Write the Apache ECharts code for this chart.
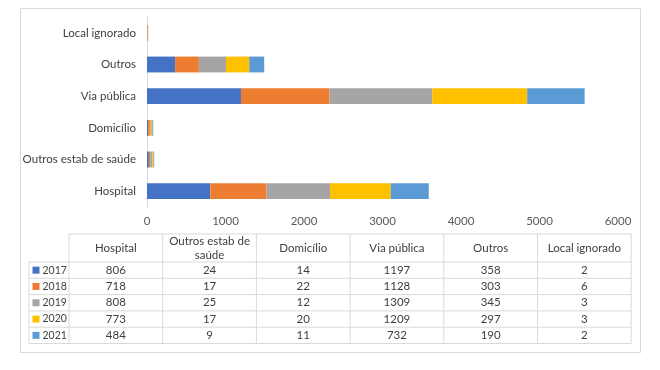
<!DOCTYPE html>
<html>
<head>
<meta charset="utf-8">
<script src="https://cdn.jsdelivr.net/npm/echarts@6/dist/echarts.min.js"></script>
<style>html,body{margin:0;padding:0;background:#fff;}#c{width:660px;height:370px;}</style>
</head>
<body>
<div id="c"></div>
<script>
const categories = ['Hospital', 'Outros estab de saúde', 'Domicílio', 'Via pública', 'Outros', 'Local ignorado'];
const tableHeaders = ['Hospital', 'Outros estab de\nsaúde', 'Domicílio', 'Via pública', 'Outros', 'Local ignorado'];
const years = ['2017', '2018', '2019', '2020', '2021'];
const v2017 = [806, 24, 14, 1197, 358, 2];
const v2018 = [718, 17, 22, 1128, 303, 6];
const v2019 = [808, 25, 12, 1309, 345, 3];
const v2020 = [773, 17, 20, 1209, 297, 3];
const v2021 = [484, 9, 11, 732, 190, 2];
const xTicks = [0, 1000, 2000, 3000, 4000, 5000, 6000];

const seriesValues = [v2017, v2018, v2019, v2020, v2021];
const colors = ['#4472C4', '#ED7D31', '#A5A5A5', '#FFC000', '#5B9BD5'];
const FONT = 'Lato';
const FS = 11.5;
const textColor = '#404040';
const lineColor = '#D9D9D9';

const chart = echarts.init(document.getElementById('c'), null, {renderer: 'canvas'});

const tblLeft = 69, colW = 93.7, legLeft = 29;
const headTop = 234, headBottom = 262, rowH = 16.3;
const graphics = [];
graphics.push({type: 'rect', shape: {x: 20.5, y: 8.5, width: 620, height: 344}, style: {fill: 'none', stroke: lineColor, lineWidth: 1}, silent: true});
const tblRight = tblLeft + colW * tableHeaders.length;
const tblBottom = headBottom + rowH * years.length;
graphics.push({type: 'line', shape: {x1: tblLeft, y1: headTop, x2: tblRight, y2: headTop}, style: {stroke: lineColor, lineWidth: 1}});
for (let r = 0; r <= years.length; r++) {
  const y = headBottom + rowH * r;
  graphics.push({type: 'line', shape: {x1: legLeft, y1: y, x2: tblRight, y2: y}, style: {stroke: lineColor, lineWidth: 1}});
}
graphics.push({type: 'line', shape: {x1: legLeft, y1: headBottom, x2: legLeft, y2: tblBottom}, style: {stroke: lineColor, lineWidth: 1}});
for (let c = 0; c <= tableHeaders.length; c++) {
  const x = tblLeft + colW * c;
  graphics.push({type: 'line', shape: {x1: x, y1: headTop, x2: x, y2: tblBottom}, style: {stroke: lineColor, lineWidth: 1}});
}
const font = FS + 'px "' + FONT + '"';
const yearFont = '10.5px "' + FONT + '"';
tableHeaders.forEach((h, c) => {
  graphics.push({type: 'text', x: tblLeft + colW * (c + 0.5), y: (headTop + headBottom) / 2,
    style: {text: h, font: font, fill: textColor, align: 'center', verticalAlign: 'middle', lineHeight: 14}});
});
years.forEach((yr, r) => {
  const cy = headBottom + rowH * (r + 0.5);
  graphics.push({type: 'rect', shape: {x: 32.5, y: cy - 3.5, width: 7, height: 7}, style: {fill: colors[r]}});
  graphics.push({type: 'text', x: 42.5, y: cy, style: {text: yr, font: yearFont, fill: textColor, align: 'left', verticalAlign: 'middle'}});
  seriesValues[r].forEach((v, c) => {
    graphics.push({type: 'text', x: tblLeft + colW * (c + 0.5), y: cy,
      style: {text: String(v), font: font, fill: textColor, align: 'center', verticalAlign: 'middle'}});
  });
});

chart.setOption({
  animation: false,
  textStyle: {fontFamily: FONT},
  grid: {left: 147, right: 42, top: 17, bottom: 163, containLabel: false},
  xAxis: {
    type: 'value', min: xTicks[0], max: xTicks[xTicks.length - 1], interval: 1000,
    axisLine: {show: false}, axisTick: {show: false}, splitLine: {show: false},
    axisLabel: {color: '#595959', fontSize: FS, fontFamily: FONT, margin: 8, formatter: v => String(v)}
  },
  yAxis: {
    type: 'category', data: categories,
    axisLine: {show: true, lineStyle: {color: lineColor}}, axisTick: {show: false},
    axisLabel: {color: textColor, fontSize: FS, fontFamily: FONT, margin: 11}
  },
  series: years.map((yr, i) => ({
    name: yr, type: 'bar', stack: 'total', data: seriesValues[i], barWidth: '50%',
    itemStyle: {color: colors[i]}
  })),
  graphic: graphics
});
</script>
</body>
</html>
